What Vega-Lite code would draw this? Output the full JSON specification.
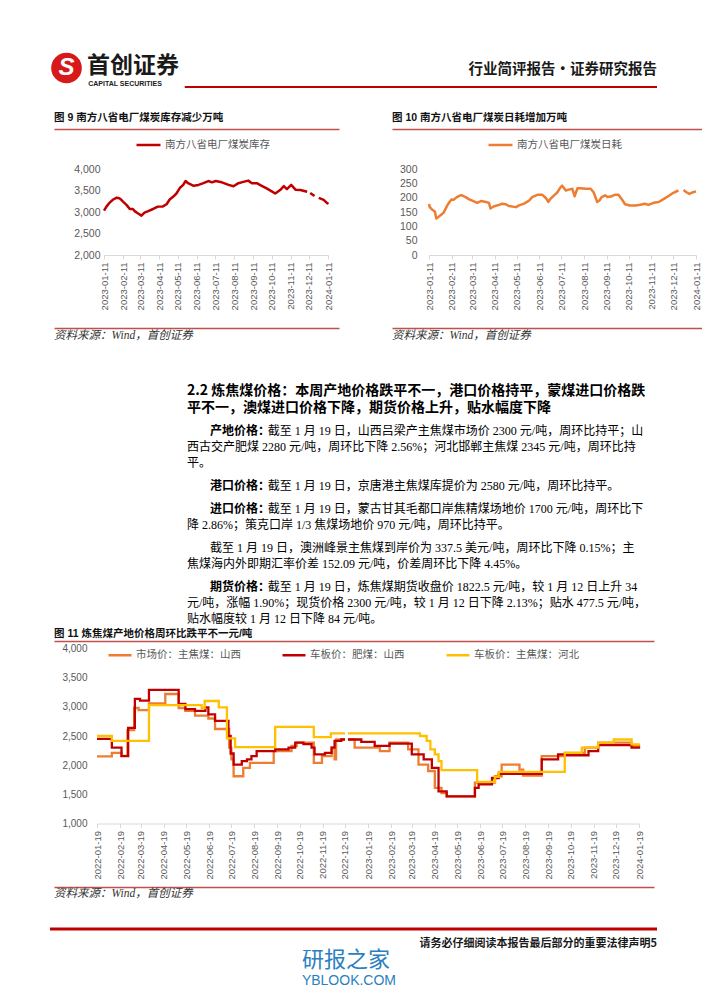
{
"$schema": "https://vega.github.io/schema/vega-lite/v6.json",
"padding": {"left": 48, "top": 50, "right": 47, "bottom": 0},
"background": "white",
"spacing": 0,
"resolve": {"scale": {"color": "independent"}, "legend": {"color": "independent"}},
"config": {
  "view": {"stroke": null},
  "concat": {"spacing": 0},
  "axis": {"labelFont": "Liberation Sans, Noto Sans CJK SC, sans-serif", "labelColor": "#595959", "domainColor": "#D9D9D9", "tickColor": "#D9D9D9", "grid": false},
  "legend": {"labelFont": "Noto Sans CJK SC, Liberation Sans, sans-serif", "labelColor": "#595959"}
},
"vconcat": [
  {
    "width": 607, "height": 57,
    "data": {"values": [{"cn": "首创证券", "en": "CAPITAL SECURITIES", "doc": "行业简评报告·证券研究报告", "s": "S"}]},
    "layer": [
      {"mark": {"type": "point", "shape": "circle", "filled": true, "size": 940, "color": "#D7191C", "opacity": 1},
       "encoding": {"x": {"datum": 2.72, "type": "quantitative", "scale": {"domain": [0, 100]}, "axis": null},
                    "y": {"datum": 31.6, "type": "quantitative", "scale": {"domain": [0, 100], "reverse": true}, "axis": null}}},
      {"mark": {"type": "text", "font": "Liberation Sans", "fontSize": 24, "fontWeight": "bold", "fontStyle": "italic", "color": "white", "align": "center", "baseline": "middle"},
       "encoding": {"x": {"datum": 2.72, "type": "quantitative"}, "y": {"datum": 31.6, "type": "quantitative"}, "text": {"field": "s"}}},
      {"mark": {"type": "text", "font": "Noto Sans CJK SC", "fontSize": 23, "fontWeight": "bold", "color": "#1a1a1a", "align": "left", "baseline": "middle"},
       "encoding": {"x": {"datum": 6.1, "type": "quantitative"}, "y": {"datum": 27.5, "type": "quantitative"}, "text": {"field": "cn"}}},
      {"mark": {"type": "text", "font": "Liberation Sans", "fontSize": 7, "fontWeight": "bold", "color": "#1a1a1a", "align": "left", "baseline": "middle"},
       "encoding": {"x": {"datum": 6.3, "type": "quantitative"}, "y": {"datum": 59.5, "type": "quantitative"}, "text": {"field": "en"}}},
      {"mark": {"type": "text", "font": "Noto Sans CJK SC", "fontSize": 14.5, "fontWeight": "bold", "color": "#1a1a1a", "align": "right", "baseline": "middle"},
       "encoding": {"x": {"datum": 100, "type": "quantitative"}, "y": {"datum": 35.1, "type": "quantitative"}, "text": {"field": "doc"}}},
      {"mark": {"type": "rule", "color": "#C00000", "strokeWidth": 2},
       "encoding": {"x": {"datum": 22.2, "type": "quantitative"}, "x2": {"datum": 100}, "y": {"datum": 64.9, "type": "quantitative"}}}
    ]
  },
  {
    "resolve": {"scale": {"color": "independent"}, "legend": {"color": "independent"}},
    "hconcat": [
      {"width": 1, "height": 1, "data": {"values": []}, "mark": "point"},
      {
        "resolve": {"scale": {"color": "independent"}, "legend": {"color": "independent"}},
        "vconcat": [
          {"width": 235, "height": 22,
           "data": {"values": [{"t": "图 9 南方八省电厂煤炭库存减少万吨"}]},
           "mark": {"type": "text", "align": "left", "baseline": "middle", "font": "Liberation Sans, Noto Sans CJK SC", "fontSize": 10.5, "fontWeight": "bold", "color": "#111111"},
           "encoding": {"text": {"field": "t"}, "x": {"datum": 0, "type": "quantitative", "scale": {"domain": [0, 1], "range": [-50, 235]},
             "axis": {"orient": "bottom", "domainColor": "#C0504D", "domainWidth": 1.5, "labels": false, "ticks": false, "grid": false, "title": null, "minExtent": 0}}}},
          {"width": 224, "height": 86,
           "data": {"values": [
             {"d": "2023-01-11", "v": 3030}, {"d": "2023-01-15", "v": 3125}, {"d": "2023-01-19", "v": 3200}, {"d": "2023-01-22", "v": 3240},
             {"d": "2023-01-26", "v": 3290}, {"d": "2023-01-31", "v": 3330}, {"d": "2023-02-04", "v": 3325}, {"d": "2023-02-07", "v": 3300},
             {"d": "2023-02-11", "v": 3240}, {"d": "2023-02-14", "v": 3200}, {"d": "2023-02-17", "v": 3160}, {"d": "2023-02-22", "v": 3070},
             {"d": "2023-02-27", "v": 3070}, {"d": "2023-03-02", "v": 3020}, {"d": "2023-03-07", "v": 2970}, {"d": "2023-03-13", "v": 2915},
             {"d": "2023-03-18", "v": 2985}, {"d": "2023-03-24", "v": 3020}, {"d": "2023-04-01", "v": 3070}, {"d": "2023-04-09", "v": 3125},
             {"d": "2023-04-17", "v": 3130}, {"d": "2023-04-23", "v": 3180}, {"d": "2023-04-28", "v": 3290}, {"d": "2023-05-04", "v": 3360},
             {"d": "2023-05-09", "v": 3430}, {"d": "2023-05-15", "v": 3565}, {"d": "2023-05-20", "v": 3630}, {"d": "2023-05-24", "v": 3720},
             {"d": "2023-05-28", "v": 3670}, {"d": "2023-06-06", "v": 3610}, {"d": "2023-06-14", "v": 3630}, {"d": "2023-06-22", "v": 3670},
             {"d": "2023-06-30", "v": 3720}, {"d": "2023-07-06", "v": 3690}, {"d": "2023-07-12", "v": 3720}, {"d": "2023-07-22", "v": 3690},
             {"d": "2023-08-02", "v": 3630}, {"d": "2023-08-10", "v": 3600}, {"d": "2023-08-18", "v": 3670}, {"d": "2023-08-26", "v": 3700},
             {"d": "2023-09-03", "v": 3730}, {"d": "2023-09-09", "v": 3670}, {"d": "2023-09-17", "v": 3670}, {"d": "2023-09-25", "v": 3610},
             {"d": "2023-10-03", "v": 3550}, {"d": "2023-10-10", "v": 3490}, {"d": "2023-10-17", "v": 3430}, {"d": "2023-10-25", "v": 3510},
             {"d": "2023-10-31", "v": 3600}, {"d": "2023-11-05", "v": 3530}, {"d": "2023-11-12", "v": 3630}, {"d": "2023-11-19", "v": 3520},
             {"d": "2023-11-27", "v": 3510}, {"d": "2023-12-08", "v": 3470}, {"d": "2023-12-10", "v": null}, {"d": "2023-12-13", "v": 3440},
             {"d": "2023-12-20", "v": 3370}, {"d": "2023-12-23", "v": null}, {"d": "2023-12-27", "v": 3330}, {"d": "2024-01-04", "v": 3280},
             {"d": "2024-01-10", "v": 3200}, {"d": "2024-01-11", "v": 3230}
           ]},
           "mark": {"type": "line", "strokeWidth": 2.5, "strokeJoin": "round"},
           "encoding": {
             "x": {"field": "d", "type": "temporal",
               "scale": {"type": "utc", "domain": [{"year": 2023, "month": 1, "date": 11, "utc": true}, {"year": 2024, "month": 1, "date": 11, "utc": true}]},
               "axis": {"title": null, "format": "%Y-%m-%d", "labelAngle": -90, "labelFontSize": 9.5, "labelPadding": 3, "tickSize": 4, "labelFlush": false, "labelOverlap": false, "minExtent": 71, "maxExtent": 71,
                 "values": [{"year": 2023, "month": 1, "date": 11, "utc": true}, {"year": 2023, "month": 2, "date": 11, "utc": true}, {"year": 2023, "month": 3, "date": 11, "utc": true},
                   {"year": 2023, "month": 4, "date": 11, "utc": true}, {"year": 2023, "month": 5, "date": 11, "utc": true}, {"year": 2023, "month": 6, "date": 11, "utc": true},
                   {"year": 2023, "month": 7, "date": 11, "utc": true}, {"year": 2023, "month": 8, "date": 11, "utc": true}, {"year": 2023, "month": 9, "date": 11, "utc": true},
                   {"year": 2023, "month": 10, "date": 11, "utc": true}, {"year": 2023, "month": 11, "date": 11, "utc": true}, {"year": 2023, "month": 12, "date": 11, "utc": true},
                   {"year": 2024, "month": 1, "date": 11, "utc": true}]}},
             "y": {"field": "v", "type": "quantitative", "scale": {"domain": [2000, 4000], "nice": false, "zero": false},
               "axis": {"title": null, "values": [2000, 2500, 3000, 3500, 4000], "format": ",.0f", "domain": false, "ticks": false, "tickSize": 0, "labelPadding": 4, "labelFontSize": 10.5, "minExtent": 50, "maxExtent": 50}},
             "color": {"datum": "南方八省电厂煤炭库存", "type": "nominal", "scale": {"domain": ["南方八省电厂煤炭库存"], "range": ["#C00000"]},
               "legend": {"title": null, "orient": "none", "legendX": 31, "legendY": -37.5, "direction": "horizontal", "symbolType": "stroke", "symbolSize": 576, "symbolStrokeWidth": 2.5, "labelFontSize": 10.5, "labelOffset": 3, "padding": 0}}
           }},
          {"width": 235, "height": 16,
           "data": {"values": [{"t": "资料来源：Wind，首创证券"}]},
           "mark": {"type": "text", "align": "left", "baseline": "middle", "font": "Liberation Serif, Noto Sans CJK SC", "fontSize": 11.5, "fontStyle": "italic", "color": "#333333"},
           "encoding": {"text": {"field": "t"}, "x": {"datum": 0, "type": "quantitative", "scale": {"domain": [0, 1], "range": [-50, 235]},
             "axis": {"orient": "top", "domainColor": "#C0504D", "domainWidth": 1.5, "labels": false, "ticks": false, "grid": false, "title": null, "minExtent": 0}}}}
        ],
        "spacing": 2
      },
      {
        "resolve": {"scale": {"color": "independent"}, "legend": {"color": "independent"}},
        "vconcat": [
          {"width": 273, "height": 22,
           "data": {"values": [{"t": "图 10 南方八省电厂煤炭日耗增加万吨"}]},
           "mark": {"type": "text", "align": "left", "baseline": "middle", "font": "Liberation Sans, Noto Sans CJK SC", "fontSize": 10.5, "fontWeight": "bold", "color": "#111111"},
           "encoding": {"text": {"field": "t"}, "x": {"datum": 0, "type": "quantitative", "scale": {"domain": [0, 1], "range": [-37, 273]},
             "axis": {"orient": "bottom", "domainColor": "#C0504D", "domainWidth": 1.5, "labels": false, "ticks": false, "grid": false, "title": null, "minExtent": 0}}}},
          {"width": 267, "height": 86,
           "data": {"values": [
             {"d": "2023-01-11", "v": 178}, {"d": "2023-01-12", "v": 167}, {"d": "2023-01-15", "v": 159}, {"d": "2023-01-19", "v": 152},
             {"d": "2023-01-21", "v": 127}, {"d": "2023-01-24", "v": 133}, {"d": "2023-01-28", "v": 141}, {"d": "2023-01-31", "v": 148},
             {"d": "2023-02-05", "v": 173}, {"d": "2023-02-08", "v": 185}, {"d": "2023-02-11", "v": 194}, {"d": "2023-02-14", "v": 193},
             {"d": "2023-02-18", "v": 202}, {"d": "2023-02-23", "v": 208}, {"d": "2023-02-25", "v": 208}, {"d": "2023-03-02", "v": 202},
             {"d": "2023-03-07", "v": 194}, {"d": "2023-03-11", "v": 190}, {"d": "2023-03-18", "v": 182}, {"d": "2023-03-23", "v": 188},
             {"d": "2023-03-30", "v": 185}, {"d": "2023-04-03", "v": 182}, {"d": "2023-04-05", "v": 162}, {"d": "2023-04-10", "v": 170},
             {"d": "2023-04-17", "v": 175}, {"d": "2023-04-21", "v": 179}, {"d": "2023-04-26", "v": 177}, {"d": "2023-04-30", "v": 171},
             {"d": "2023-05-10", "v": 167}, {"d": "2023-05-14", "v": 173}, {"d": "2023-05-21", "v": 179}, {"d": "2023-05-28", "v": 190},
             {"d": "2023-06-01", "v": 202}, {"d": "2023-06-08", "v": 210}, {"d": "2023-06-15", "v": 210}, {"d": "2023-06-20", "v": 198},
             {"d": "2023-06-23", "v": 185}, {"d": "2023-06-26", "v": 196}, {"d": "2023-07-01", "v": 208}, {"d": "2023-07-05", "v": 217},
             {"d": "2023-07-10", "v": 237}, {"d": "2023-07-12", "v": 242}, {"d": "2023-07-17", "v": 225}, {"d": "2023-07-21", "v": 228},
             {"d": "2023-07-26", "v": 231}, {"d": "2023-07-29", "v": 205}, {"d": "2023-08-02", "v": 233}, {"d": "2023-08-06", "v": 233},
             {"d": "2023-08-13", "v": 231}, {"d": "2023-08-20", "v": 231}, {"d": "2023-08-24", "v": 219}, {"d": "2023-08-29", "v": 185},
             {"d": "2023-09-01", "v": 190}, {"d": "2023-09-04", "v": 202}, {"d": "2023-09-09", "v": 208}, {"d": "2023-09-12", "v": 202},
             {"d": "2023-09-18", "v": 205}, {"d": "2023-09-22", "v": 210}, {"d": "2023-09-27", "v": 210}, {"d": "2023-10-02", "v": 193},
             {"d": "2023-10-06", "v": 177}, {"d": "2023-10-13", "v": 173}, {"d": "2023-10-20", "v": 173}, {"d": "2023-10-27", "v": 175},
             {"d": "2023-11-02", "v": 179}, {"d": "2023-11-07", "v": 175}, {"d": "2023-11-14", "v": 182}, {"d": "2023-11-21", "v": 185},
             {"d": "2023-11-27", "v": 194}, {"d": "2023-12-04", "v": 205}, {"d": "2023-12-11", "v": 217}, {"d": "2023-12-18", "v": 225},
             {"d": "2023-12-20", "v": null}, {"d": "2023-12-25", "v": 227}, {"d": "2023-12-29", "v": 219}, {"d": "2024-01-02", "v": 213},
             {"d": "2024-01-07", "v": 219}, {"d": "2024-01-11", "v": 222}
           ]},
           "mark": {"type": "line", "strokeWidth": 2.5, "strokeJoin": "round"},
           "encoding": {
             "x": {"field": "d", "type": "temporal",
               "scale": {"type": "utc", "domain": [{"year": 2023, "month": 1, "date": 11, "utc": true}, {"year": 2024, "month": 1, "date": 11, "utc": true}]},
               "axis": {"title": null, "format": "%Y-%m-%d", "labelAngle": -90, "labelFontSize": 9.5, "labelPadding": 3, "tickSize": 4, "labelFlush": false, "labelOverlap": false, "minExtent": 71, "maxExtent": 71,
                 "values": [{"year": 2023, "month": 1, "date": 11, "utc": true}, {"year": 2023, "month": 2, "date": 11, "utc": true}, {"year": 2023, "month": 3, "date": 11, "utc": true},
                   {"year": 2023, "month": 4, "date": 11, "utc": true}, {"year": 2023, "month": 5, "date": 11, "utc": true}, {"year": 2023, "month": 6, "date": 11, "utc": true},
                   {"year": 2023, "month": 7, "date": 11, "utc": true}, {"year": 2023, "month": 8, "date": 11, "utc": true}, {"year": 2023, "month": 9, "date": 11, "utc": true},
                   {"year": 2023, "month": 10, "date": 11, "utc": true}, {"year": 2023, "month": 11, "date": 11, "utc": true}, {"year": 2023, "month": 12, "date": 11, "utc": true},
                   {"year": 2024, "month": 1, "date": 11, "utc": true}]}},
             "y": {"field": "v", "type": "quantitative", "scale": {"domain": [0, 300], "nice": false},
               "axis": {"title": null, "values": [0, 50, 100, 150, 200, 250, 300], "format": "d", "domain": false, "ticks": false, "tickSize": 0, "labelPadding": 12, "labelFontSize": 10.5, "minExtent": 37, "maxExtent": 37}},
             "color": {"datum": "南方八省电厂煤炭日耗", "type": "nominal", "scale": {"domain": ["南方八省电厂煤炭日耗"], "range": ["#ED7D31"]},
               "legend": {"title": null, "orient": "none", "legendX": 58, "legendY": -37.5, "direction": "horizontal", "symbolType": "stroke", "symbolSize": 576, "symbolStrokeWidth": 2.5, "labelFontSize": 10.5, "labelOffset": 3, "padding": 0}}
           }},
          {"width": 273, "height": 16,
           "data": {"values": [{"t": "资料来源：Wind，首创证券"}]},
           "mark": {"type": "text", "align": "left", "baseline": "middle", "font": "Liberation Serif, Noto Sans CJK SC", "fontSize": 11.5, "fontStyle": "italic", "color": "#333333"},
           "encoding": {"text": {"field": "t"}, "x": {"datum": 0, "type": "quantitative", "scale": {"domain": [0, 1], "range": [-37, 273]},
             "axis": {"orient": "top", "domainColor": "#C0504D", "domainWidth": 1.5, "labels": false, "ticks": false, "grid": false, "title": null, "minExtent": 0}}}}
        ],
        "spacing": 2
      }
    ],
    "spacing": 3
  },
  {"width": 1, "height": 37.5, "data": {"values": []}, "mark": "point"},
  {
    "hconcat": [
      {"width": 134, "height": 1, "data": {"values": []}, "mark": "point"},
      {
        "vconcat": [
          {"width": 462, "height": 34,
           "data": {"values": [
             {"line": 1, "text": "2.2 炼焦煤价格：本周产地价格跌平不一，港口价格持平，蒙煤进口价格跌"},
             {"line": 2, "text": "平不一，澳煤进口价格下降，期货价格上升，贴水幅度下降"}]},
           "mark": {"type": "text", "align": "left", "baseline": "middle", "font": "Noto Sans CJK SC", "fontSize": 14, "fontWeight": "bold", "color": "#000000"},
           "encoding": {"y": {"field": "line", "type": "quantitative", "axis": null, "scale": {"domain": [0.5, 2.5], "reverse": true}},
             "x": {"datum": 0, "type": "quantitative", "scale": {"domain": [0, 38]}, "axis": null},
             "text": {"field": "text"}}},
          {"width": 462, "height": 48,
           "data": {"values": [
             {"line": 1, "label": "产地价格：", "text": "截至 1 月 19 日，山西吕梁产主焦煤市场价 2300 元/吨，周环比持平；山"},
             {"line": 2, "text": "西古交产肥煤 2280 元/吨，周环比下降 2.56%；河北邯郸主焦煤 2345 元/吨，周环比持"},
             {"line": 3, "text": "平。"}]},
           "encoding": {"y": {"field": "line", "type": "quantitative", "axis": null, "scale": {"domain": [0.5, 3.5], "reverse": true}}},
           "layer": [
             {"transform": [{"filter": "isValid(datum.label)"}],
              "mark": {"type": "text", "align": "left", "baseline": "middle", "font": "Noto Sans CJK SC", "fontSize": 12, "fontWeight": "bold", "color": "#000000"},
              "encoding": {"x": {"datum": 2, "type": "quantitative", "scale": {"domain": [0, 38]}, "axis": null}, "text": {"field": "label"}}},
             {"transform": [{"filter": "datum.line == 1"}],
              "mark": {"type": "text", "align": "left", "baseline": "middle", "font": "Liberation Serif, Noto Sans CJK SC", "fontSize": 12, "color": "#000000"},
              "encoding": {"x": {"datum": 7, "type": "quantitative"}, "text": {"field": "text"}}},
             {"transform": [{"filter": "datum.line > 1"}],
              "mark": {"type": "text", "align": "left", "baseline": "middle", "font": "Liberation Serif, Noto Sans CJK SC", "fontSize": 12, "color": "#000000"},
              "encoding": {"x": {"datum": 0, "type": "quantitative"}, "text": {"field": "text"}}}
           ]},
          {"width": 462, "height": 16,
           "data": {"values": [
             {"line": 1, "label": "港口价格：", "text": "截至 1 月 19 日，京唐港主焦煤库提价为 2580 元/吨，周环比持平。"}]},
           "encoding": {"y": {"field": "line", "type": "quantitative", "axis": null, "scale": {"domain": [0.5, 1.5], "reverse": true}}},
           "layer": [
             {"mark": {"type": "text", "align": "left", "baseline": "middle", "font": "Noto Sans CJK SC", "fontSize": 12, "fontWeight": "bold", "color": "#000000"},
              "encoding": {"x": {"datum": 2, "type": "quantitative", "scale": {"domain": [0, 38]}, "axis": null}, "text": {"field": "label"}}},
             {"mark": {"type": "text", "align": "left", "baseline": "middle", "font": "Liberation Serif, Noto Sans CJK SC", "fontSize": 12, "color": "#000000"},
              "encoding": {"x": {"datum": 7, "type": "quantitative"}, "text": {"field": "text"}}}
           ]},
          {"width": 462, "height": 32,
           "data": {"values": [
             {"line": 1, "label": "进口价格：", "text": "截至 1 月 19 日，蒙古甘其毛都口岸焦精煤场地价 1700 元/吨，周环比下"},
             {"line": 2, "text": "降 2.86%；策克口岸 1/3 焦煤场地价 970 元/吨，周环比持平。"}]},
           "encoding": {"y": {"field": "line", "type": "quantitative", "axis": null, "scale": {"domain": [0.5, 2.5], "reverse": true}}},
           "layer": [
             {"transform": [{"filter": "isValid(datum.label)"}],
              "mark": {"type": "text", "align": "left", "baseline": "middle", "font": "Noto Sans CJK SC", "fontSize": 12, "fontWeight": "bold", "color": "#000000"},
              "encoding": {"x": {"datum": 2, "type": "quantitative", "scale": {"domain": [0, 38]}, "axis": null}, "text": {"field": "label"}}},
             {"transform": [{"filter": "datum.line == 1"}],
              "mark": {"type": "text", "align": "left", "baseline": "middle", "font": "Liberation Serif, Noto Sans CJK SC", "fontSize": 12, "color": "#000000"},
              "encoding": {"x": {"datum": 7, "type": "quantitative"}, "text": {"field": "text"}}},
             {"transform": [{"filter": "datum.line > 1"}],
              "mark": {"type": "text", "align": "left", "baseline": "middle", "font": "Liberation Serif, Noto Sans CJK SC", "fontSize": 12, "color": "#000000"},
              "encoding": {"x": {"datum": 0, "type": "quantitative"}, "text": {"field": "text"}}}
           ]},
          {"width": 462, "height": 32,
           "data": {"values": [
             {"line": 1, "text": "截至 1 月 19 日，澳洲峰景主焦煤到岸价为 337.5 美元/吨，周环比下降 0.15%；主"},
             {"line": 2, "text": "焦煤海内外即期汇率价差 152.09 元/吨，价差周环比下降 4.45%。"}]},
           "encoding": {"y": {"field": "line", "type": "quantitative", "axis": null, "scale": {"domain": [0.5, 2.5], "reverse": true}}},
           "layer": [
             {"transform": [{"filter": "datum.line == 1"}],
              "mark": {"type": "text", "align": "left", "baseline": "middle", "font": "Liberation Serif, Noto Sans CJK SC", "fontSize": 12, "color": "#000000"},
              "encoding": {"x": {"datum": 2, "type": "quantitative", "scale": {"domain": [0, 38]}, "axis": null}, "text": {"field": "text"}}},
             {"transform": [{"filter": "datum.line > 1"}],
              "mark": {"type": "text", "align": "left", "baseline": "middle", "font": "Liberation Serif, Noto Sans CJK SC", "fontSize": 12, "color": "#000000"},
              "encoding": {"x": {"datum": 0, "type": "quantitative"}, "text": {"field": "text"}}}
           ]},
          {"width": 462, "height": 48,
           "data": {"values": [
             {"line": 1, "label": "期货价格：", "text": "截至 1 月 19 日，炼焦煤期货收盘价 1822.5 元/吨，较 1 月 12 日上升 34"},
             {"line": 2, "text": "元/吨，涨幅 1.90%；现货价格 2300 元/吨，较 1 月 12 日下降 2.13%；贴水 477.5 元/吨，"},
             {"line": 3, "text": "贴水幅度较 1 月 12 日下降 84 元/吨。"}]},
           "encoding": {"y": {"field": "line", "type": "quantitative", "axis": null, "scale": {"domain": [0.5, 3.5], "reverse": true}}},
           "layer": [
             {"transform": [{"filter": "isValid(datum.label)"}],
              "mark": {"type": "text", "align": "left", "baseline": "middle", "font": "Noto Sans CJK SC", "fontSize": 12, "fontWeight": "bold", "color": "#000000"},
              "encoding": {"x": {"datum": 2, "type": "quantitative", "scale": {"domain": [0, 38]}, "axis": null}, "text": {"field": "label"}}},
             {"transform": [{"filter": "datum.line == 1"}],
              "mark": {"type": "text", "align": "left", "baseline": "middle", "font": "Liberation Serif, Noto Sans CJK SC", "fontSize": 12, "color": "#000000"},
              "encoding": {"x": {"datum": 7, "type": "quantitative"}, "text": {"field": "text"}}},
             {"transform": [{"filter": "datum.line > 1"}],
              "mark": {"type": "text", "align": "left", "baseline": "middle", "font": "Liberation Serif, Noto Sans CJK SC", "fontSize": 12, "color": "#000000"},
              "encoding": {"x": {"datum": 0, "type": "quantitative"}, "text": {"field": "text"}}}
           ]}
        ],
        "spacing": 7
      }
    ],
    "spacing": 3
  },
  {
    "resolve": {"scale": {"color": "independent"}, "legend": {"color": "independent"}},
    "hconcat": [
      {"width": 1, "height": 1, "data": {"values": []}, "mark": "point"},
      {
        "resolve": {"scale": {"color": "independent"}, "legend": {"color": "independent"}},
        "vconcat": [
          {"width": 557, "height": 14,
           "data": {"values": [{"t": "图 11 炼焦煤产地价格周环比跌平不一元/吨"}]},
           "mark": {"type": "text", "align": "left", "baseline": "middle", "font": "Liberation Sans, Noto Sans CJK SC", "fontSize": 10.5, "fontWeight": "bold", "color": "#111111"},
           "encoding": {"text": {"field": "t"}, "x": {"datum": 0, "type": "quantitative", "scale": {"domain": [0, 1], "range": [-43, 557]},
             "axis": {"orient": "bottom", "domainColor": "#C0504D", "domainWidth": 1.5, "labels": false, "ticks": false, "grid": false, "title": null, "minExtent": 0}}}},
          {"width": 542, "height": 175,
           "data": {"values": [
             {"d": "2022-01-19", "s": "市场价：主焦煤：山西", "v": 2150}, {"d": "2022-02-08", "s": "市场价：主焦煤：山西", "v": 2210},
             {"d": "2022-02-21", "s": "市场价：主焦煤：山西", "v": 2160}, {"d": "2022-03-01", "s": "市场价：主焦煤：山西", "v": 2600},
             {"d": "2022-03-10", "s": "市场价：主焦煤：山西", "v": 2980}, {"d": "2022-03-16", "s": "市场价：主焦煤：山西", "v": 2945},
             {"d": "2022-03-30", "s": "市场价：主焦煤：山西", "v": 3060}, {"d": "2022-04-21", "s": "市场价：主焦煤：山西", "v": 3220},
             {"d": "2022-05-09", "s": "市场价：主焦煤：山西", "v": 2980}, {"d": "2022-05-18", "s": "市场价：主焦煤：山西", "v": 2930},
             {"d": "2022-05-31", "s": "市场价：主焦煤：山西", "v": 2850}, {"d": "2022-06-18", "s": "市场价：主焦煤：山西", "v": 2800},
             {"d": "2022-06-27", "s": "市场价：主焦煤：山西", "v": 2620}, {"d": "2022-07-16", "s": "市场价：主焦煤：山西", "v": 2300},
             {"d": "2022-07-19", "s": "市场价：主焦煤：山西", "v": 2100}, {"d": "2022-07-22", "s": "市场价：主焦煤：山西", "v": 1810},
             {"d": "2022-08-04", "s": "市场价：主焦煤：山西", "v": 1955}, {"d": "2022-08-13", "s": "市场价：主焦煤：山西", "v": 2040},
             {"d": "2022-09-14", "s": "市场价：主焦煤：山西", "v": 2240}, {"d": "2022-10-08", "s": "市场价：主焦煤：山西", "v": 2330},
             {"d": "2022-10-15", "s": "市场价：主焦煤：山西", "v": 2385}, {"d": "2022-11-07", "s": "市场价：主焦煤：山西", "v": 2040},
             {"d": "2022-11-18", "s": "市场价：主焦煤：山西", "v": 2155}, {"d": "2022-12-01", "s": "市场价：主焦煤：山西", "v": 2300},
             {"d": "2022-12-05", "s": "市场价：主焦煤：山西", "v": 2100}, {"d": "2022-12-07", "s": "市场价：主焦煤：山西", "v": 2440},
             {"d": "2022-12-19", "s": "市场价：主焦煤：山西", "v": 2440}, {"d": "2022-12-20", "s": "市场价：主焦煤：山西", "v": null},
             {"d": "2022-12-23", "s": "市场价：主焦煤：山西", "v": 2440}, {"d": "2023-01-01", "s": "市场价：主焦煤：山西", "v": 2300},
             {"d": "2023-02-04", "s": "市场价：主焦煤：山西", "v": 2240}, {"d": "2023-02-17", "s": "市场价：主焦煤：山西", "v": 2385},
             {"d": "2023-03-14", "s": "市场价：主焦煤：山西", "v": 2270}, {"d": "2023-03-28", "s": "市场价：主焦煤：山西", "v": 2010},
             {"d": "2023-04-10", "s": "市场价：主焦煤：山西", "v": 1900}, {"d": "2023-04-19", "s": "市场价：主焦煤：山西", "v": 1610},
             {"d": "2023-04-28", "s": "市场价：主焦煤：山西", "v": 1520}, {"d": "2023-05-05", "s": "市场价：主焦煤：山西", "v": 1465},
             {"d": "2023-06-12", "s": "市场价：主焦煤：山西", "v": 1700}, {"d": "2023-07-09", "s": "市场价：主焦煤：山西", "v": 1810},
             {"d": "2023-07-18", "s": "市场价：主焦煤：山西", "v": 2010}, {"d": "2023-08-11", "s": "市场价：主焦煤：山西", "v": 1925},
             {"d": "2023-08-16", "s": "市场价：主焦煤：山西", "v": 1820}, {"d": "2023-09-10", "s": "市场价：主焦煤：山西", "v": 2155},
             {"d": "2023-10-11", "s": "市场价：主焦煤：山西", "v": 2210}, {"d": "2023-11-07", "s": "市场价：主焦煤：山西", "v": 2300},
             {"d": "2023-11-25", "s": "市场价：主焦煤：山西", "v": 2385}, {"d": "2024-01-09", "s": "市场价：主焦煤：山西", "v": 2330},
             {"d": "2024-01-19", "s": "市场价：主焦煤：山西", "v": 2300},

             {"d": "2022-01-19", "s": "车板价：肥煤：山西", "v": 2450}, {"d": "2022-02-08", "s": "车板价：肥煤：山西", "v": 2300},
             {"d": "2022-02-21", "s": "车板价：肥煤：山西", "v": 2155}, {"d": "2022-03-02", "s": "车板价：肥煤：山西", "v": 2640},
             {"d": "2022-03-11", "s": "车板价：肥煤：山西", "v": 3135}, {"d": "2022-03-18", "s": "车板价：肥煤：山西", "v": 3105},
             {"d": "2022-03-30", "s": "车板价：肥煤：山西", "v": 3290}, {"d": "2022-05-09", "s": "车板价：肥煤：山西", "v": 3050},
             {"d": "2022-05-18", "s": "车板价：肥煤：山西", "v": 2960}, {"d": "2022-05-31", "s": "车板价：肥煤：山西", "v": 2930},
             {"d": "2022-06-14", "s": "车板价：肥煤：山西", "v": 2990}, {"d": "2022-06-18", "s": "车板价：肥煤：山西", "v": 2870},
             {"d": "2022-06-27", "s": "车板价：肥煤：山西", "v": 2760}, {"d": "2022-07-15", "s": "车板价：肥煤：山西", "v": 2500},
             {"d": "2022-07-18", "s": "车板价：肥煤：山西", "v": 2200}, {"d": "2022-07-22", "s": "车板价：肥煤：山西", "v": 2010},
             {"d": "2022-08-02", "s": "车板价：肥煤：山西", "v": 2070}, {"d": "2022-08-09", "s": "车板价：肥煤：山西", "v": 2100},
             {"d": "2022-08-15", "s": "车板价：肥煤：山西", "v": 2155}, {"d": "2022-08-22", "s": "车板价：肥煤：山西", "v": 2240},
             {"d": "2022-09-16", "s": "车板价：肥煤：山西", "v": 2270}, {"d": "2022-10-04", "s": "车板价：肥煤：山西", "v": 2300},
             {"d": "2022-10-13", "s": "车板价：肥煤：山西", "v": 2385}, {"d": "2022-10-24", "s": "车板价：肥煤：山西", "v": 2360},
             {"d": "2022-11-04", "s": "车板价：肥煤：山西", "v": 2300}, {"d": "2022-11-08", "s": "车板价：肥煤：山西", "v": 2185},
             {"d": "2022-11-22", "s": "车板价：肥煤：山西", "v": 2210}, {"d": "2022-12-01", "s": "车板价：肥煤：山西", "v": 2300},
             {"d": "2022-12-05", "s": "车板价：肥煤：山西", "v": 2415}, {"d": "2022-12-14", "s": "车板价：肥煤：山西", "v": 2440},
             {"d": "2022-12-19", "s": "车板价：肥煤：山西", "v": 2440}, {"d": "2022-12-20", "s": "车板价：肥煤：山西", "v": null},
             {"d": "2022-12-23", "s": "车板价：肥煤：山西", "v": 2440}, {"d": "2023-01-10", "s": "车板价：肥煤：山西", "v": 2400},
             {"d": "2023-01-28", "s": "车板价：肥煤：山西", "v": 2330}, {"d": "2023-02-17", "s": "车板价：肥煤：山西", "v": 2370},
             {"d": "2023-03-19", "s": "车板价：肥煤：山西", "v": 2185}, {"d": "2023-04-04", "s": "车板价：肥煤：山西", "v": 2100},
             {"d": "2023-04-15", "s": "车板价：肥煤：山西", "v": 1955}, {"d": "2023-04-24", "s": "车板价：肥煤：山西", "v": 1550},
             {"d": "2023-05-05", "s": "车板价：肥煤：山西", "v": 1465}, {"d": "2023-06-12", "s": "车板价：肥煤：山西", "v": 1610},
             {"d": "2023-06-17", "s": "车板价：肥煤：山西", "v": 1670}, {"d": "2023-07-05", "s": "车板价：肥煤：山西", "v": 1780},
             {"d": "2023-07-14", "s": "车板价：肥煤：山西", "v": 1850}, {"d": "2023-09-10", "s": "车板价：肥煤：山西", "v": 2100},
             {"d": "2023-10-02", "s": "车板价：肥煤：山西", "v": 2185}, {"d": "2023-10-11", "s": "车板价：肥煤：山西", "v": 2170},
             {"d": "2023-11-12", "s": "车板价：肥煤：山西", "v": 2240}, {"d": "2023-11-25", "s": "车板价：肥煤：山西", "v": 2345},
             {"d": "2024-01-09", "s": "车板价：肥煤：山西", "v": 2300}, {"d": "2024-01-19", "s": "车板价：肥煤：山西", "v": 2280},

             {"d": "2022-01-19", "s": "车板价：主焦煤：河北", "v": 2500}, {"d": "2022-02-08", "s": "车板价：主焦煤：河北", "v": 2415},
             {"d": "2022-03-30", "s": "车板价：主焦煤：河北", "v": 3030}, {"d": "2022-06-09", "s": "车板价：主焦煤：河北", "v": 2980},
             {"d": "2022-06-13", "s": "车板价：主焦煤：河北", "v": 3100}, {"d": "2022-07-02", "s": "车板价：主焦煤：河北", "v": 2990},
             {"d": "2022-07-13", "s": "车板价：主焦煤：河北", "v": 2460}, {"d": "2022-07-24", "s": "车板价：主焦煤：河北", "v": 2310},
             {"d": "2022-09-16", "s": "车板价：主焦煤：河北", "v": 2655}, {"d": "2022-11-07", "s": "车板价：主焦煤：河北", "v": 2480},
             {"d": "2022-11-30", "s": "车板价：主焦煤：河北", "v": 2545}, {"d": "2022-12-19", "s": "车板价：主焦煤：河北", "v": 2545},
             {"d": "2022-12-20", "s": "车板价：主焦煤：河北", "v": null}, {"d": "2022-12-23", "s": "车板价：主焦煤：河北", "v": 2545},
             {"d": "2023-03-30", "s": "车板价：主焦煤：河北", "v": 2500}, {"d": "2023-04-08", "s": "车板价：主焦煤：河北", "v": 2415},
             {"d": "2023-04-13", "s": "车板价：主焦煤：河北", "v": 2270}, {"d": "2023-04-19", "s": "车板价：主焦煤：河北", "v": 2185},
             {"d": "2023-04-24", "s": "车板价：主焦煤：河北", "v": 2070}, {"d": "2023-04-28", "s": "车板价：主焦煤：河北", "v": 1915},
             {"d": "2023-06-15", "s": "车板价：主焦煤：河北", "v": 1713}, {"d": "2023-07-09", "s": "车板价：主焦煤：河北", "v": 1800},
             {"d": "2023-07-14", "s": "车板价：主焦煤：河北", "v": 1885}, {"d": "2023-10-11", "s": "车板价：主焦煤：河北", "v": 2210},
             {"d": "2023-11-03", "s": "车板价：主焦煤：河北", "v": 2300}, {"d": "2023-11-25", "s": "车板价：主焦煤：河北", "v": 2385},
             {"d": "2023-12-16", "s": "车板价：主焦煤：河北", "v": 2440}, {"d": "2024-01-09", "s": "车板价：主焦煤：河北", "v": 2355},
             {"d": "2024-01-19", "s": "车板价：主焦煤：河北", "v": 2345}
           ]},
           "mark": {"type": "line", "strokeWidth": 2.3, "interpolate": "step-after"},
           "encoding": {
             "x": {"field": "d", "type": "temporal",
               "scale": {"type": "utc", "domain": [{"year": 2022, "month": 1, "date": 19, "utc": true}, {"year": 2024, "month": 1, "date": 19, "utc": true}]},
               "axis": {"title": null, "format": "%Y-%m-%d", "labelAngle": -90, "labelFontSize": 9.5, "labelPadding": 3, "tickSize": 4, "labelFlush": false, "labelOverlap": false, "minExtent": 63, "maxExtent": 63,
                 "values": [{"year": 2022, "month": 1, "date": 19, "utc": true}, {"year": 2022, "month": 2, "date": 19, "utc": true}, {"year": 2022, "month": 3, "date": 19, "utc": true},
                   {"year": 2022, "month": 4, "date": 19, "utc": true}, {"year": 2022, "month": 5, "date": 19, "utc": true}, {"year": 2022, "month": 6, "date": 19, "utc": true},
                   {"year": 2022, "month": 7, "date": 19, "utc": true}, {"year": 2022, "month": 8, "date": 19, "utc": true}, {"year": 2022, "month": 9, "date": 19, "utc": true},
                   {"year": 2022, "month": 10, "date": 19, "utc": true}, {"year": 2022, "month": 11, "date": 19, "utc": true}, {"year": 2022, "month": 12, "date": 19, "utc": true},
                   {"year": 2023, "month": 1, "date": 19, "utc": true}, {"year": 2023, "month": 2, "date": 19, "utc": true}, {"year": 2023, "month": 3, "date": 19, "utc": true},
                   {"year": 2023, "month": 4, "date": 19, "utc": true}, {"year": 2023, "month": 5, "date": 19, "utc": true}, {"year": 2023, "month": 6, "date": 19, "utc": true},
                   {"year": 2023, "month": 7, "date": 19, "utc": true}, {"year": 2023, "month": 8, "date": 19, "utc": true}, {"year": 2023, "month": 9, "date": 19, "utc": true},
                   {"year": 2023, "month": 10, "date": 19, "utc": true}, {"year": 2023, "month": 11, "date": 19, "utc": true}, {"year": 2023, "month": 12, "date": 19, "utc": true},
                   {"year": 2024, "month": 1, "date": 19, "utc": true}]}},
             "y": {"field": "v", "type": "quantitative", "scale": {"domain": [1000, 4000], "nice": false, "zero": false},
               "axis": {"title": null, "values": [1000, 1500, 2000, 2500, 3000, 3500, 4000], "format": ",.0f", "domain": false, "ticks": false, "tickSize": 0, "labelPadding": 10, "labelFontSize": 10, "minExtent": 43, "maxExtent": 43}},
             "color": {"field": "s", "type": "nominal",
               "scale": {"domain": ["市场价：主焦煤：山西", "车板价：肥煤：山西", "车板价：主焦煤：河北"], "range": ["#ED7D31", "#C00000", "#FFC000"]},
               "legend": {"title": null, "orient": "none", "legendX": 10, "legendY": -6.5, "direction": "horizontal", "symbolType": "stroke", "symbolSize": 529, "symbolStrokeWidth": 2.5, "labelFontSize": 10.5, "labelOffset": 3, "columnPadding": 36, "padding": 0, "labelLimit": 300}}
           }},
          {"width": 557, "height": 14,
           "data": {"values": [{"t": "资料来源：Wind，首创证券"}]},
           "mark": {"type": "text", "align": "left", "baseline": "middle", "font": "Liberation Serif, Noto Sans CJK SC", "fontSize": 11.5, "fontStyle": "italic", "color": "#333333"},
           "encoding": {"text": {"field": "t"}, "x": {"datum": 0, "type": "quantitative", "scale": {"domain": [0, 1], "range": [-43, 557]},
             "axis": {"orient": "top", "domainColor": "#C0504D", "domainWidth": 1.5, "labels": false, "ticks": false, "grid": false, "title": null, "minExtent": 0}}}}
        ],
        "spacing": 0.5
      }
    ],
    "spacing": 3
  },
  {
    "width": 607, "height": 91,
    "data": {"values": [{"note": "请务必仔细阅读本报告最后部分的重要法律声明5", "wm": "研报之家", "url": "YBLOOK.COM"}]},
    "layer": [
      {"mark": {"type": "rule", "color": "#C00000", "strokeWidth": 3},
       "encoding": {"y": {"datum": 30.8, "type": "quantitative", "scale": {"domain": [0, 100], "reverse": true}, "axis": null}}},
      {"mark": {"type": "text", "align": "right", "baseline": "middle", "font": "Noto Sans CJK SC", "fontSize": 11, "fontWeight": "bold", "color": "#1a1a1a"},
       "encoding": {"x": {"datum": 100, "type": "quantitative", "scale": {"domain": [0, 100]}, "axis": null}, "y": {"datum": 47.3, "type": "quantitative"}, "text": {"field": "note"}}},
      {"mark": {"type": "text", "align": "left", "baseline": "middle", "font": "Noto Sans CJK SC", "fontSize": 22, "color": "#2A7FC1"},
       "encoding": {"x": {"datum": 41.5, "type": "quantitative"}, "y": {"datum": 64.5, "type": "quantitative"}, "text": {"field": "wm"}}},
      {"mark": {"type": "text", "align": "left", "baseline": "middle", "font": "Liberation Sans", "fontSize": 14, "color": "#2A7FC1"},
       "encoding": {"x": {"datum": 41.5, "type": "quantitative"}, "y": {"datum": 87.5, "type": "quantitative"}, "text": {"field": "url"}}}
    ]
  }
]
}
